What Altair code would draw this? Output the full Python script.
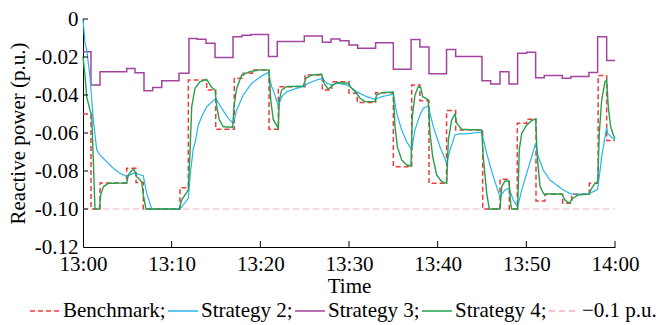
import altair as alt
import pandas as pd

# ---- data (time in minutes after 13:00, reactive power in p.u.) ----
bench_t = [0, 0.9, 1.92, 4.93, 5.98, 6.8, 10.94, 11.88, 13.95, 14.97, 17.06, 18.08, 19.1,
           20.98, 22.03, 25.04, 26.99, 28.05, 30.0, 30.93, 33.0, 35.0, 37.07, 38.0, 39.02,
           41.0, 42.03, 45.08, 47.03, 48.08, 48.98, 50.04, 51.09, 52.1, 54.1, 55.11, 57.1,
           58.1, 59.06, 60]
bench_v = [-0.050, -0.100, -0.0863, -0.0786, -0.086, -0.100, -0.0888, -0.0321, -0.0374, -0.058,
           -0.0312, -0.0286, -0.0268, -0.058, -0.0356, -0.0295, -0.0374, -0.033, -0.0391, -0.044,
           -0.0388, -0.0777, -0.0347, -0.043, -0.0865, -0.0482, -0.0584, -0.100, -0.0844, -0.100,
           -0.0549, -0.0528, -0.0958, -0.0923, -0.097, -0.0923, -0.0865, -0.0298, -0.064, -0.064]

s3_t = [0, 0.9, 1.92, 4.93, 5.86, 6.88, 7.86, 8.88, 10.83, 11.95, 12.86, 13.87, 14.89, 16.92,
        17.93, 18.95, 20.92, 21.91, 24.96, 26.99, 27.97, 28.98, 30.0, 30.98, 33.0, 35.0, 37.0,
        38.0, 39.02, 41.0, 42.03, 45.0, 45.98, 47.03, 48.04, 49.02, 50.04, 51.05, 52.02, 54.05,
        55.03, 57.06, 58.04, 59.06, 60]
s3_v = [-0.0172, -0.0347, -0.0277, -0.026, -0.0283, -0.0377, -0.036, -0.0325, -0.0286, -0.0102,
        -0.0107, -0.0128, -0.0202, -0.0093, -0.0085, -0.0081, -0.0198, -0.0119, -0.0089, -0.0123,
        -0.0105, -0.0114, -0.0137, -0.0154, -0.0125, -0.0265, -0.0108, -0.0148, -0.0288, -0.016,
        -0.0198, -0.0325, -0.0342, -0.0277, -0.0342, -0.018, -0.0175, -0.0309, -0.0298, -0.0312,
        -0.0303, -0.0281, -0.0093, -0.0219, -0.0219]

s4_t = [0, 0.23, 0.42, 0.79, 0.98, 1.16, 1.35, 1.84, 2.0, 2.29, 2.85, 4.93, 5.11, 5.49, 5.75,
        6.06, 6.62, 6.8, 7.1, 10.86, 11.13, 11.5, 11.88, 12.07, 12.26, 12.63, 13.19, 13.95,
        14.51, 14.89, 15.08, 15.37, 15.82, 16.88, 17.03, 17.33, 17.9, 18.83, 19.96, 20.98,
        21.17, 21.46, 22.03, 22.14, 22.41, 22.97, 24.84, 25.15, 25.79, 26.92, 27.18, 27.66,
        28.05, 28.61, 29.92, 30.3, 30.87, 31.24, 31.8, 32.93, 33.12, 33.69, 35.0, 35.19, 35.45,
        35.94, 36.51, 36.99, 37.14, 37.44, 37.81, 38.09, 38.31, 38.94, 39.13, 39.44, 39.89,
        40.45, 41.02, 41.2, 41.58, 41.95, 42.15, 42.71, 44.96, 45.14, 45.53, 45.82, 47.03,
        47.22, 47.59, 48.04, 48.23, 48.35, 49.02, 49.2, 49.48, 50.04, 50.6, 51.05, 51.23,
        51.54, 51.91, 52.1, 52.29, 53.99, 54.36, 54.85, 55.23, 55.86, 57.06, 57.37, 57.74,
        58.05, 58.23, 58.5, 58.87, 59.06, 59.24, 59.51, 59.81, 60.0]
s4_v = [-0.0198, -0.030, -0.041, -0.048, -0.0505, -0.074, -0.100, -0.100, -0.0926, -0.0883,
        -0.0865, -0.0863, -0.0821, -0.0798, -0.0791, -0.083, -0.0856, -0.0926, -0.100, -0.100,
        -0.0953, -0.0926, -0.090, -0.070, -0.0462, -0.0365, -0.033, -0.0318, -0.036, -0.0374,
        -0.046, -0.053, -0.0567, -0.057, -0.046, -0.0365, -0.0295, -0.0277, -0.0268, -0.0268,
        -0.0426, -0.053, -0.0575, -0.0426, -0.0374, -0.0356, -0.0353, -0.0312, -0.0295, -0.029,
        -0.0338, -0.037, -0.0353, -0.0335, -0.0338, -0.0365, -0.0391, -0.0417, -0.0435, -0.0435,
        -0.040, -0.0388, -0.0384, -0.0567, -0.0672, -0.0742, -0.0768, -0.0774, -0.0514, -0.040,
        -0.0356, -0.036, -0.0409, -0.0426, -0.060, -0.0725, -0.0821, -0.0856, -0.0865, -0.0637,
        -0.0532, -0.050, -0.0549, -0.0581, -0.0584, -0.0725, -0.0917, -0.100, -0.100, -0.0883,
        -0.0853, -0.0853, -0.097, -0.100, -0.100, -0.0689, -0.0602, -0.0558, -0.0535, -0.0525,
        -0.0725, -0.088, -0.0917, -0.0926, -0.0921, -0.0921, -0.0953, -0.097, -0.0944, -0.0926,
        -0.0921, -0.0891, -0.0865, -0.0856, -0.060, -0.0426, -0.033, -0.0321, -0.0462, -0.0567,
        -0.061, -0.0628]

s2_t = [0, 0.23, 0.42, 0.79, 1.16, 1.55, 1.92, 2.67, 3.42, 4.17, 4.93, 5.3, 5.86, 6.24, 6.8,
        7.18, 7.75, 10.94, 11.88, 12.07, 12.44, 12.63, 13.0, 13.39, 13.95, 14.97, 15.64, 16.39,
        16.95, 17.33, 18.08, 19.03, 20.15, 20.9, 21.28, 21.46, 22.03, 22.41, 22.97, 24.1, 24.84,
        25.41, 26.36, 26.99, 27.48, 28.05, 28.61, 29.74, 30.0, 30.87, 31.99, 32.93, 33.69, 35.0,
        35.38, 35.94, 36.51, 37.07, 37.44, 38.0, 38.38, 38.94, 39.51, 40.26, 41.02, 41.39,
        41.95, 42.33, 43.08, 44.96, 45.53, 46.27, 47.03, 47.59, 48.04, 48.53, 49.02, 49.48,
        50.04, 50.6, 51.05, 51.35, 51.91, 52.66, 53.42, 54.17, 55.03, 57.06, 58.05, 58.5,
        59.06, 59.17, 59.62, 60.0]
s2_v = [0.0, -0.0128, -0.0163, -0.0304, -0.053, -0.0689, -0.0716, -0.0751, -0.0786, -0.0812,
        -0.083, -0.0821, -0.0807, -0.0818, -0.0825, -0.0917, -0.100, -0.100, -0.0944, -0.083,
        -0.068, -0.0654, -0.056, -0.0514, -0.0462, -0.0418, -0.047, -0.0523, -0.0549, -0.0479,
        -0.040, -0.0338, -0.030, -0.0281, -0.0356, -0.0374, -0.0458, -0.0409, -0.0383, -0.0365,
        -0.0356, -0.0338, -0.0321, -0.0312, -0.0338, -0.0347, -0.0338, -0.0347, -0.0353,
        -0.0383, -0.0409, -0.0423, -0.0409, -0.0395, -0.0496, -0.0584, -0.0646, -0.0689,
        -0.0584, -0.0505, -0.047, -0.0458, -0.0567, -0.0672, -0.0758, -0.0689, -0.0611,
        -0.0605, -0.0605, -0.0595, -0.0707, -0.083, -0.0935, -0.090, -0.089, -0.0953, -0.099,
        -0.090, -0.0812, -0.0725, -0.0654, -0.0725, -0.0795, -0.0847, -0.0874, -0.090, -0.0921,
        -0.0921, -0.0896, -0.0725, -0.057, -0.0602, -0.0623, -0.0637]

ref_t = [0, 60]
ref_v = [-0.1, -0.1]

names = ['Benchmark;', 'Strategy 2;', 'Strategy 3;', 'Strategy 4;', '\u22120.1 p.u.']
colors = ['#ee3a3a', '#27b4ec', '#a4449f', '#23a04c', '#f6a9c8']
dashes = [[5, 3], [1, 0], [1, 0], [1, 0], [6, 4]]

x_ticks = [0, 10, 20, 30, 40, 50, 60]
y_ticks = [0, -0.02, -0.04, -0.06, -0.08, -0.10, -0.12]

rows = []
for nm, ts, vs in [(names[0], bench_t, bench_v), (names[1], s2_t, s2_v),
                   (names[2], s3_t, s3_v), (names[3], s4_t, s4_v), (names[4], ref_t, ref_v)]:
    rows += [{'t': t, 'v': v, 's': nm} for t, v in zip(ts, vs)]
df = pd.DataFrame(rows)

FONT = 'Times New Roman'

leg = alt.Legend(title=None, orient='none', direction='horizontal', legendX=-54, legendY=276,
                 symbolType='stroke', symbolSize=900, symbolStrokeWidth=1.6, labelOffset=2,
                 columnPadding=-2, labelFont=FONT, labelFontSize=21, labelColor='black',
                 labelLimit=400, padding=0)

x_axis = alt.Axis(values=x_ticks, title='Time', labelFlush=False,
                  labelExpr="datum.value == 60 ? '14:00' : (datum.value == 0 ? '13:00' : '13:' + datum.value)")
y_axis = alt.Axis(values=y_ticks, title='Reactive power (p.u.)', labelFlush=False,
                  labelExpr="datum.value == 0 ? '0' : '-' + format(abs(datum.value), '.2f')")
x_enc = alt.X('t:Q', scale=alt.Scale(domain=[0, 60], nice=False), axis=x_axis)
y_enc = alt.Y('v:Q', scale=alt.Scale(domain=[-0.12, 0], nice=False, zero=False), axis=y_axis)
color = alt.Color('s:N', scale=alt.Scale(domain=names, range=colors), legend=leg)
dash = alt.StrokeDash('s:N', scale=alt.Scale(domain=names, range=dashes), legend=leg)


def series_layer(nm, interp, width):
    return alt.Chart(df).transform_filter(alt.datum.s == nm).mark_line(
        interpolate=interp, strokeWidth=width).encode(x=x_enc, y=y_enc, color=color, strokeDash=dash)


layers = [
    series_layer(names[4], 'linear', 1.0),
    series_layer(names[0], 'step-after', 1.5),
    series_layer(names[2], 'step-after', 1.5),
    series_layer(names[1], 'linear', 1.2),
    series_layer(names[3], 'linear', 1.4),
]

xt = alt.Chart(pd.DataFrame({'t': x_ticks[1:]})).mark_rule(color='black', strokeWidth=1).encode(
    x=x_enc, y=alt.value(228), y2=alt.value(222))
yt = alt.Chart(pd.DataFrame({'v': y_ticks[:-1]})).mark_rule(color='black', strokeWidth=1).encode(
    y=y_enc, x=alt.value(0), x2=alt.value(5))

chart = alt.layer(*layers, xt, yt).properties(
    width=532, height=228,
    autosize=alt.AutoSizeParams(type='none'),
    padding={'left': 83, 'top': 19, 'right': 47, 'bottom': 78},
).configure(font=FONT).configure_view(stroke=None).configure_axis(
    grid=False, ticks=False, tickSize=0, domainColor='black', domainWidth=1,
    labelFont=FONT, labelFontSize=21, labelColor='black',
    titleFont=FONT, titleFontSize=21, titleFontWeight='normal', titleColor='black',
).configure_axisX(labelPadding=6, titlePadding=1).configure_axisY(labelPadding=5, titlePadding=6)

chart.save('out.html', embed_options={'renderer': 'svg', 'actions': False})
